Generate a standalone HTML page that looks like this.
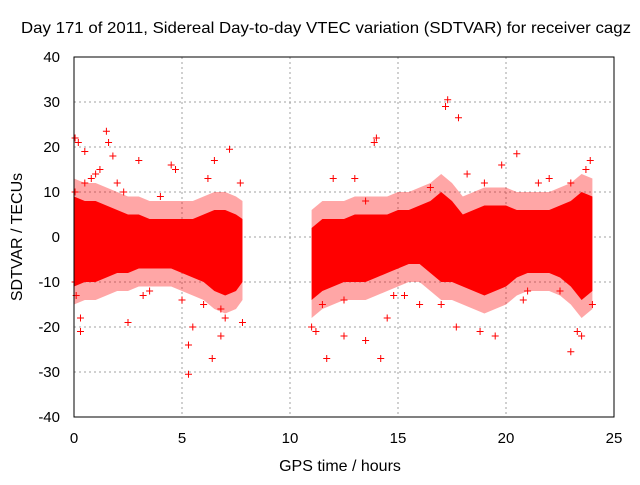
<!DOCTYPE html>
<html><head><meta charset="utf-8"><style>
body{margin:0;background:#fff}
svg text{font-family:"Liberation Sans",sans-serif;font-size:15px;fill:#000}
svg text.big{font-size:16px}
</style></head><body>
<svg id="chart" width="640" height="480">
<rect width="640" height="480" fill="#fff"/>
<text class="big" x="326" y="33" text-anchor="middle" textLength="610" lengthAdjust="spacingAndGlyphs">Day 171 of 2011, Sidereal Day-to-day VTEC variation (SDTVAR) for receiver cagz</text>
<g id="grid"></g>
<g id="cloud"></g>
<g id="pts"></g>
<g id="axes"></g>
<text class="big" x="340" y="471" text-anchor="middle">GPS time / hours</text>
<text class="big" transform="translate(22,237) rotate(-90)" text-anchor="middle">SDTVAR / TECUs</text>
</svg>
<script>
const xTicks=[0,5,10,15,20,25];
const yTicks=[-40,-30,-20,-10,0,10,20,30,40];
const seg1Times=[0,0.5,1,1.5,2,2.5,3,3.5,4,4.5,5,5.5,6,6.5,7,7.5,7.8];
const seg1Upper=[9,8,8,7,6,5,5,4,4,4,4,4,5,6,6,5,4];
const seg1Lower=[-11,-10,-10,-9,-8,-8,-7,-7,-7,-7,-8,-9,-10,-12,-13,-12,-10];
const seg2Times=[11,11.5,12,12.5,13,13.5,14,14.5,15,15.5,16,16.5,17,17.5,18,18.5,19,19.5,20,20.5,21,21.5,22,22.5,23,23.5,24];
const seg2Upper=[2,4,4,4,5,5,5,5,6,6,7,8,10,8,5,6,7,7,7,6,6,6,6,7,8,10,9];
const seg2Lower=[-14,-12,-11,-10,-10,-10,-9,-8,-7,-6,-6,-8,-10,-10,-11,-12,-13,-12,-11,-9,-8,-8,-8,-9,-11,-14,-12];
const outT=[0.2,0.5,0.3,0.3,1.5,1.6,1.2,2.5,3,4.5,4.7,5.3,5.5,5.3,6.4,6.5,7.2,7,6.8,11,11.2,11.7,12.5,13.5,14,14.2,13.9,14.5,16,17.2,17.3,17.8,17.7,17,18.8,19.5,19.8,20.5,23,23.3,23.5,23.7,23.9,0.8,2,6.8,12,13,15.3,22,24,0.1,7.7,7.8,0.5,1,2.3,3.5,4,5,11.5,12.5,13.5,16.5,19,21,22.5,23,1.8,3.2,6,6.2,14.8,18.2,20.8,21.5,0.05,0.05,0.05];
const outV=[21,19,-18,-21,23.5,21,15,-19,17,16,15,-24,-20,-30.5,-27,17,19.5,-18,-16,-20,-21,-27,-22,-23,22,-27,21,-18,-15,29,30.5,26.5,-20,-15,-21,-22,16,18.5,-25.5,-21,-22,15,17,13,12,-22,13,13,-13,13,-15,-13,12,-19,12,14,10,-12,9,-14,-15,-14,8,11,12,-12,-12,12,18,-13,-15,13,-13,14,-14,12,22,-10,10];
const NS='http://www.w3.org/2000/svg';
const X=t=>74+t*21.6, Y=v=>237-v*4.5;
function mk(tag,attrs,parent){const e=document.createElementNS(NS,tag);for(const k in attrs)e.setAttribute(k,attrs[k]);parent.appendChild(e);return e;}
const grid=document.getElementById('grid'),axes=document.getElementById('axes'),cloud=document.getElementById('cloud'),pts=document.getElementById('pts');
xTicks.forEach(t=>{
  if(t>0&&t<25){const l=mk('line',{x1:X(t),x2:X(t),y1:57,y2:417,stroke:'#a0a0a0','stroke-dasharray':'2,3'},grid);
  
  }
  const tx=mk('text',{x:X(t),y:443,'text-anchor':'middle'},axes);tx.textContent=t;
  
  
});
yTicks.forEach(v=>{
  if(v>-40&&v<40){const l=mk('line',{x1:74,x2:614,y1:Y(v),y2:Y(v),stroke:'#a0a0a0','stroke-dasharray':'2,3'},grid);
  
  }
  const tx=mk('text',{x:60,y:Y(v)+5,'text-anchor':'end'},axes);tx.textContent=v;
  
  
});
const fr=mk('rect',{x:74,y:57,width:540,height:360,fill:'none',stroke:'#000'},axes);


function band(ts,up,lo,pad,op,name){
  let d='M'+ts.map((t,i)=>X(t)+','+Y(up[i]+pad)).join(' L');
  d+=' L'+ts.map((t,i)=>X(t)+','+Y(lo[i]-pad)).reverse().join(' L')+' Z';
  const p=mk('path',{d:d,fill:'#ff0000','fill-opacity':op},cloud);
  
  
}
band(seg1Times,seg1Upper,seg1Lower,4,0.35,'cloud-outer-1');
band(seg2Times,seg2Upper,seg2Lower,4,0.35,'cloud-outer-2');
band(seg1Times,seg1Upper,seg1Lower,0,1,'cloud-core-1');
band(seg2Times,seg2Upper,seg2Lower,0,1,'cloud-core-2');
outT.forEach((t,i)=>{
  const x=X(t),y=Y(outV[i]);
  const p=mk('path',{d:`M${x-3.5},${y}H${x+3.5}M${x},${y-3.5}V${y+3.5}`,stroke:'#ff0000','stroke-width':1},pts);
  
  
});
</script>
</body></html>
